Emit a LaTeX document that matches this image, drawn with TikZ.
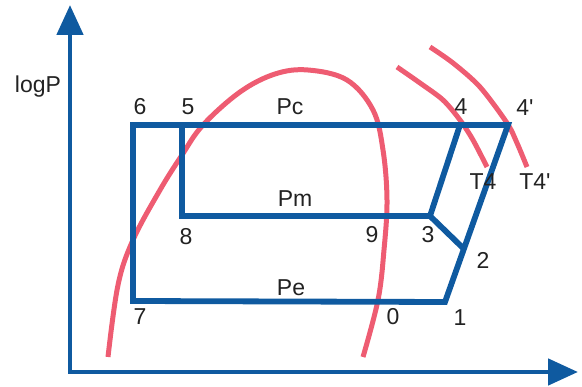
\documentclass[tikz,border=0pt]{standalone}
\usepackage{fontspec}
\setmainfont{Liberation Sans}
\usetikzlibrary{arrows.meta}
\definecolor{ink}{HTML}{222222}
\definecolor{cyc}{HTML}{0F5AA0}
\definecolor{sat}{HTML}{EE5C72}
\tikzset{
  ax/.style={draw=cyc, line width=4.8pt, line join=miter,
    {Triangle[length=30pt, width=26pt]}-{Triangle[length=30pt, width=26pt]}},
  ln/.style={draw=cyc, line width=5.8pt, line join=miter},
  crv/.style={draw=sat, line width=5pt, line cap=butt},
  lbl/.style={font=\fontsize{23}{25}\selectfont, text=ink, inner sep=0pt},
}

\begin{document}
\begin{tikzpicture}[x=1pt, y=-1pt]
\useasboundingbox (0,0) rectangle (582,387);

% axes
\coordinate (o) at (70,372);
\coordinate (ytip) at (70,5);
\coordinate (xtip) at (578,372);
\draw[ax] (ytip) -- (o) -- (xtip);
\node[lbl] (logp) at (38,87) {logP};

% saturation dome and isotherms
\draw[crv] plot[smooth, tension=0.6] coordinates {(108,357) (118,285) (133,240) (160,190)
  (182,155) (203,125) (240,92) (275,74) (308,70) (347,80) (373,110) (383,150)
  (387,200) (384,250) (378,300) (363,357)};
\draw[crv] plot[smooth] coordinates {(397,67) (420,83) (443,100) (460,120) (473,140) (487,167)};
\draw[crv] plot[smooth] coordinates {(430,47) (453,63) (480,87) (507,123) (517,143) (527,167)};

% state points
\coordinate (p1) at (445,302);
\coordinate (p2) at (463,248);
\coordinate (p3) at (430,216);
\coordinate (p4) at (460,125);
\coordinate (p4s) at (508,125);
\coordinate (p5) at (182,125);
\coordinate (p6) at (133,125);
\coordinate (p7) at (133,301);
\coordinate (p8) at (182,216);

% cycles
\draw[ln] (p7) -- (p6) -- (p4s) -- (p1) -- cycle;
\draw[ln] (p5) -- (p8) -- (p3) -- (p4);
\draw[ln] (p3) -- (p2);

% labels
\node[lbl] (l6) at (140,107) {6};
\node[lbl] (l5) at (188,107) {5};
\node[lbl] (pc) at (290,107) {Pc};
\node[lbl] (l4) at (461,107) {4};
\node[lbl] (l4s) at (525,108) {4\textquotesingle};
\node[lbl] (t4) at (483,182) {T4};
\node[lbl] (t4s) at (535,182) {T4\textquotesingle};
\node[lbl] (pm) at (295,199) {Pm};
\node[lbl] (l8) at (186,237) {8};
\node[lbl] (l9) at (372,235) {9};
\node[lbl] (l3) at (428,235) {3};
\node[lbl] (l2) at (483,260) {2};
\node[lbl] (pe) at (291,288) {Pe};
\node[lbl] (l7) at (140,317) {7};
\node[lbl] (l0) at (393,317) {0};
\node[lbl] (l1) at (460,318) {1};
\end{tikzpicture}
\end{document}
